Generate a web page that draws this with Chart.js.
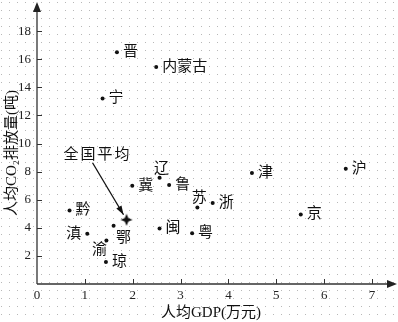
<!DOCTYPE html>
<html>
<head>
<meta charset="utf-8">
<script src="https://cdn.jsdelivr.net/npm/chart.js@4"></script>
<style>
  html, body { margin: 0; padding: 0; background: #fff; }
</style>
</head>
<body>
<canvas id="scatterChart" width="398" height="322"></canvas>
<script>
// Per-capita GDP (10k yuan) vs per-capita CO2 emissions (t) by province
const provinces = ['晋', '内蒙古', '宁', '辽', '冀', '鲁', '津', '沪', '苏', '浙', '京', '黔', '滇', '鄂', '渝', '琼', '闽', '粤'];
const gdpPerCapita = [1.67, 2.49, 1.37, 2.56, 1.99, 2.76, 4.49, 6.45, 3.35, 3.67, 5.51, 0.68, 1.05, 1.60, 1.45, 1.44, 2.56, 3.24];
const co2PerCapita = [16.5, 15.45, 13.2, 7.57, 7.0, 7.05, 7.9, 8.21, 5.45, 5.76, 4.95, 5.24, 3.57, 4.14, 3.1, 1.57, 3.95, 3.62];

const averageLabel = '全国平均';
const averageGdp = [1.87];
const averageCo2 = [4.57];

const xTicks = [0, 1, 2, 3, 4, 5, 6, 7];
const yTicks = [2, 4, 6, 8, 10, 12, 14, 16, 18];

const xTitle = '人均GDP(万元)';
const yTitle = '人均CO₂排放量(吨)';

// where each name sits relative to its dot (default: right of it)
const labelOffsets = {
  '辽': [2, -9, 'center'],
  '苏': [2, -9, 'center'],
  '滇': [-6, 0, 'right'],
  '鄂': [10, 12, 'center'],
  '渝': [-7, 10, 'center']
};

const numFont = { family: '"Liberation Serif", "Times New Roman", serif', size: 13 };
const cjkFont = '15px "Liberation Serif", "Noto Sans CJK SC", sans-serif';

// four-pointed star used for the national average
function makeStar(r) {
  const c = document.createElement('canvas');
  c.width = c.height = r * 2 + 2;
  const g = c.getContext('2d');
  const m = r + 1, k = r * 0.3;
  g.beginPath();
  g.moveTo(m, m - r); g.lineTo(m + k, m - k); g.lineTo(m + r, m); g.lineTo(m + k, m + k);
  g.lineTo(m, m + r); g.lineTo(m - k, m + k); g.lineTo(m - r, m); g.lineTo(m - k, m - k);
  g.closePath();
  g.fillStyle = '#111';
  g.fill();
  return c;
}

function drawArrowHead(ctx, x, y, angle, len, half) {
  ctx.beginPath();
  ctx.moveTo(x, y);
  ctx.lineTo(x - len * Math.cos(angle) + half * Math.sin(angle), y - len * Math.sin(angle) - half * Math.cos(angle));
  ctx.lineTo(x - len * Math.cos(angle) - half * Math.sin(angle), y - len * Math.sin(angle) + half * Math.cos(angle));
  ctx.closePath();
  ctx.fill();
}

const decorPlugin = {
  id: 'decor',
  beforeDraw(chart) {
    const ctx = chart.ctx;
    ctx.save();
    ctx.fillStyle = '#fff';
    ctx.fillRect(0, 0, chart.width, chart.height);
    // dotted paper background
    ctx.fillStyle = '#b8b8b8';
    for (let y = 2; y < chart.height; y += 8) {
      for (let x = 1; x < chart.width; x += 8) ctx.fillRect(x, y, 1, 1);
    }
    ctx.restore();
  },
  afterDatasetsDraw(chart) {
    const ctx = chart.ctx;
    const xs = chart.scales.x, ys = chart.scales.y;
    const x0 = xs.getPixelForValue(0), y0 = ys.getPixelForValue(0);
    const area = chart.chartArea;
    ctx.save();

    // axes with arrows
    ctx.strokeStyle = '#333';
    ctx.fillStyle = '#222';
    ctx.lineWidth = 1.3;
    ctx.beginPath();
    ctx.moveTo(x0, y0); ctx.lineTo(area.right - 4, y0);
    ctx.moveTo(x0, y0); ctx.lineTo(x0, area.top + 4);
    ctx.stroke();
    drawArrowHead(ctx, area.right, y0, 0, 10, 4);
    drawArrowHead(ctx, x0, area.top - 1, -Math.PI / 2, 10, 4);

    // inward tick marks
    ctx.lineWidth = 1;
    ctx.beginPath();
    xTicks.forEach(v => {
      if (v === 0) return;
      const px = Math.round(xs.getPixelForValue(v)) + 0.5;
      ctx.moveTo(px, y0); ctx.lineTo(px, y0 - 5);
    });
    yTicks.forEach(v => {
      const py = Math.round(ys.getPixelForValue(v)) + 0.5;
      ctx.moveTo(x0, py); ctx.lineTo(x0 + 5, py);
    });
    ctx.stroke();

    // province names
    ctx.font = cjkFont;
    ctx.fillStyle = '#111';
    ctx.textBaseline = 'middle';
    const pts = chart.getDatasetMeta(0).data;
    provinces.forEach((name, i) => {
      const p = pts[i];
      const off = labelOffsets[name] || [6, 0, 'left'];
      ctx.textAlign = off[2];
      ctx.fillText(name, p.x + off[0], p.y + off[1]);
    });

    // national average callout
    const s = chart.getDatasetMeta(1).data[0];
    const tx = s.x - 29, ty = s.y - 65;
    ctx.textAlign = 'center';
    ctx.letterSpacing = '2px';
    ctx.fillText(averageLabel, tx, ty);
    ctx.letterSpacing = '0px';
    const sx = tx - 5, sy = ty + 8;
    const ex = s.x - 3, ey = s.y - 5;
    ctx.lineWidth = 1.3;
    ctx.strokeStyle = '#111';
    ctx.beginPath();
    ctx.moveTo(sx, sy); ctx.lineTo(ex, ey);
    ctx.stroke();
    drawArrowHead(ctx, ex, ey, Math.atan2(ey - sy, ex - sx), 9, 3);

    // axis titles
    ctx.font = cjkFont;
    ctx.textAlign = 'center';
    ctx.fillText(xTitle, 211, 313);
    ctx.translate(12, 153);
    ctx.rotate(-Math.PI / 2);
    ctx.fillText(yTitle, 0, 0);

    ctx.restore();
  }
};

const ctx = document.getElementById('scatterChart').getContext('2d');
const scatterChart = new Chart(ctx, {
  type: 'scatter',
  data: {
    datasets: [
      {
        label: '省份',
        data: provinces.map((p, i) => ({ x: gdpPerCapita[i], y: co2PerCapita[i] })),
        backgroundColor: '#111',
        borderWidth: 0,
        pointRadius: 2,
      },
      {
        label: averageLabel,
        data: averageGdp.map((g, i) => ({ x: g, y: averageCo2[i] })),
        pointStyle: makeStar(6),
      },
    ],
  },
  options: {
    responsive: false,
    animation: false,
    layout: { autoPadding: false, padding: { top: 3, right: 1, left: 0, bottom: 0 } },
    plugins: {
      legend: { display: false },
      tooltip: { enabled: false },
    },
    scales: {
      x: {
        type: 'linear',
        min: 0,
        max: 7.52,
        grid: { display: false, drawTicks: false },
        border: { display: false },
        afterBuildTicks: scale => { scale.ticks = xTicks.map(v => ({ value: v })); },
        afterFit: scale => {
          scale.height = 38;
          scale.paddingLeft = 0;
          scale.paddingRight = 0;
        },
        ticks: { padding: 4, color: '#222', font: numFont, maxRotation: 0 },
      },
      y: {
        type: 'linear',
        min: 0,
        max: 20,
        grid: { display: false, drawTicks: false },
        border: { display: false },
        afterBuildTicks: scale => { scale.ticks = yTicks.map(v => ({ value: v })); },
        afterFit: scale => {
          scale.width = 37;
          scale.paddingTop = 0;
          scale.paddingBottom = 0;
        },
        ticks: { padding: 6, color: '#222', font: numFont },
      },
    },
  },
  plugins: [decorPlugin],
});
</script>
</body>
</html>
